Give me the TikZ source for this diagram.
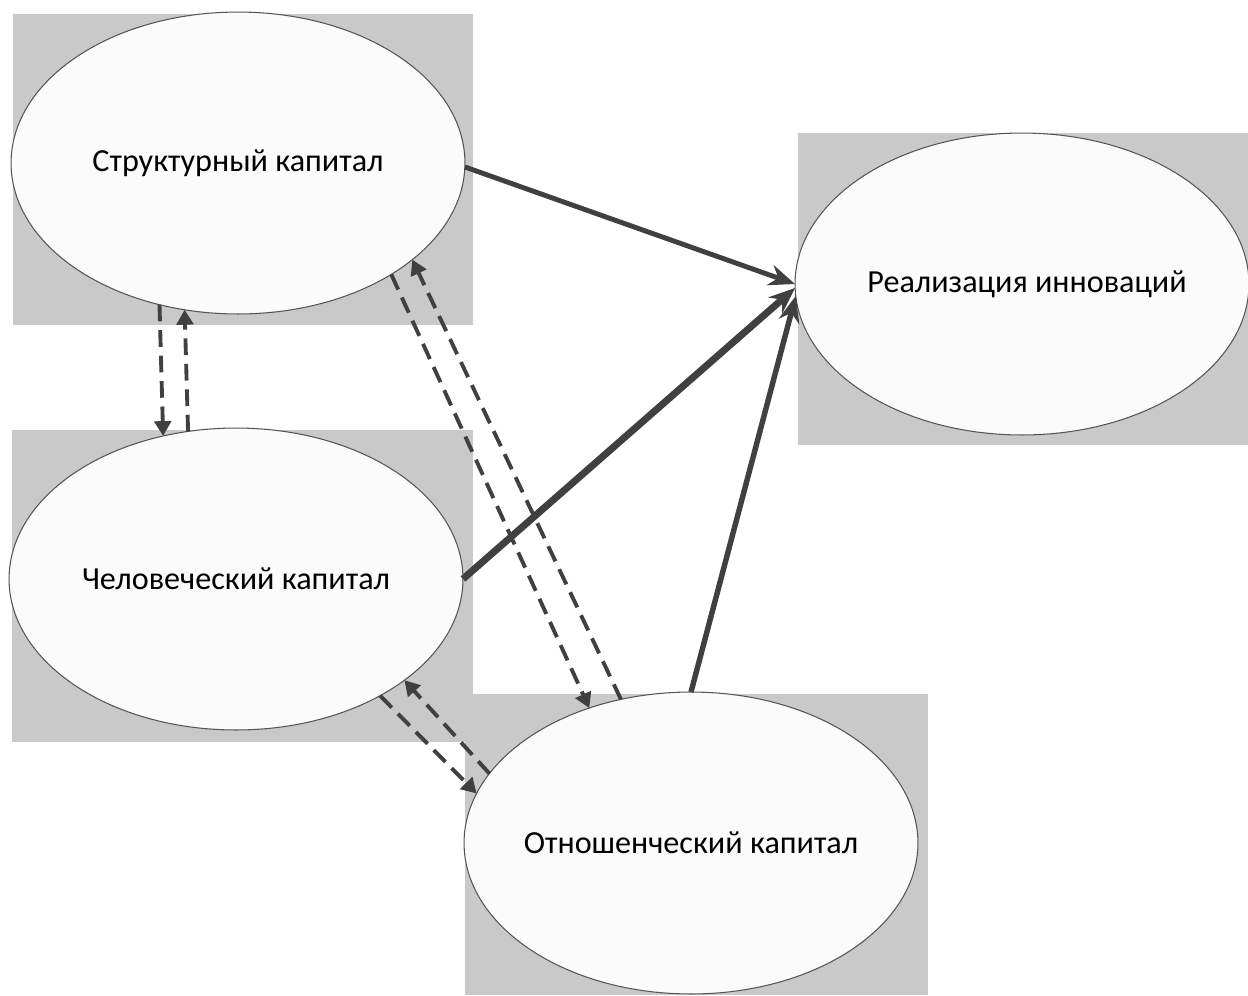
\documentclass[tikz,border=0pt]{standalone}
\usepackage{fontspec}
\setmainfont{Carlito}
\usetikzlibrary{shapes.geometric,arrows.meta}
\definecolor{boxgray}{RGB}{201,201,201}
\definecolor{ellfill}{RGB}{251,251,251}
\definecolor{edgegray}{RGB}{85,85,85}
\definecolor{arrowgray}{RGB}{64,64,64}
\newcommand\PxScale{0.02cm}
\tikzset{
  block/.style={
    fill = boxgray
  },
  capital/.style={
    shape = ellipse,
    draw = edgegray,
    fill = ellfill,
    line width = 0.6pt,
    inner sep = 0pt,
    outer sep = 0pt,
    minimum width = 9.08cm,
    minimum height = 6.04cm
  },
  captext/.style={
    font = \fontsize{18.3}{22}\selectfont,
    inner sep = 0pt
  },
  effect/.style={
    draw = arrowgray,
    -{Stealth[length=15pt,width=12pt,inset=5pt]}
  },
  link/.style={
    draw = arrowgray,
    line width = 2.2pt,
    dash pattern = on 9.5pt off 5pt,
    -{Triangle[length=8.5pt,width=9.5pt]}
  }
}

\begin{document}
\begin{tikzpicture}[x=\PxScale, y=-\PxScale]
  \useasboundingbox (0,0) rectangle (1248,995);

  % grey panels behind the ellipses
  \fill[block] (13,14) rectangle (473,325);
  \fill[block] (12,430) rectangle (473,742);
  \fill[block] (798,133) rectangle (1248,445);
  \fill[block] (465,694) rectangle (928,995);

  \node[capital, label={[captext]center:Структурный капитал}] (SC) at (238,163) {};
  \node[capital, label={[captext]center:Человеческий капитал}] (HC) at (236,579) {};
  \node[capital, label={[captext, xshift=0.1cm]center:Реализация инноваций}] (IR) at (1022,284) {};
  \node[capital, label={[captext]center:Отношенческий капитал}] (RC) at (691,843) {};

  % effects on innovation
  \draw[effect, line width=2.8pt] (SC.-1) -- (IR.180);
  \draw[effect, line width=4pt] (HC.0) -- (IR.181.5);
  \draw[effect, line width=3.1pt] (RC.90) -- (IR.183);

  % mutual links
  \draw[link] (SC.241.5) -- (HC.117.8);
  \draw[link] (HC.108.4) -- (SC.250.9);
  \draw[link] (SC.-36.8) -- (RC.127.3);
  \draw[link] (RC.116.7) -- (SC.-29);
  \draw[link] (HC.-39.8) -- (RC.167);
  \draw[link] (RC.161.8) -- (HC.-31.3);
\end{tikzpicture}
\end{document}
